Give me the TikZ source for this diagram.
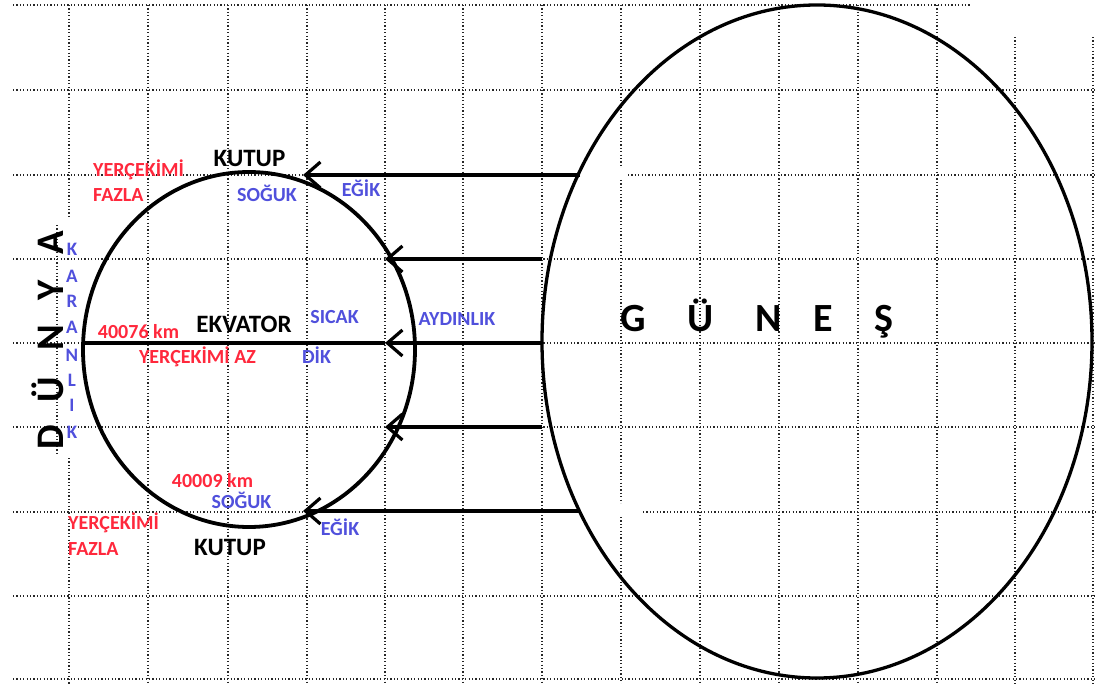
\documentclass[tikz,border=0pt]{standalone}
\usepackage{fontspec}
\setmainfont{Carlito}
\usetikzlibrary{arrows.meta,shapes.geometric}
\definecolor{txtred}{RGB}{255,40,60}
\definecolor{txtblue}{RGB}{80,80,220}
\begin{document}
\begin{tikzpicture}[x=1pt,y=-1pt,
  grid/.style={black!85, line width=1.2pt, dash pattern=on 1.2pt off 2.2pt},
  body/.style={draw, ellipse, inner sep=0pt, line width=3.8pt},
  ray/.style={line width=3.8pt, -{Straight Barb[length=15pt,width=26pt,line width=3.2pt]}},
  lbl/.style={font=\bfseries\fontsize{25}{30}\selectfont, anchor=base, inner sep=0pt},
  rtxt/.style={font=\bfseries\fontsize{20}{24}\selectfont, text=txtred, anchor=base, inner sep=0pt},
  btxt/.style={font=\bfseries\fontsize{20}{24}\selectfont, text=txtblue, anchor=base, inner sep=0pt},
  biglbl/.style={font=\bfseries\fontsize{40}{48}\selectfont, anchor=base, inner sep=0pt},
]
\useasboundingbox (0,0) rectangle (1097,684);
% grid
\foreach \y in {90,259,343,427,596,679} \draw[grid] (13,\y) -- (1097,\y);
\draw[grid] (13,5) -- (970,5);
\draw[grid] (13,175) -- (580,175);
\draw[grid] (628,175) -- (1097,175);
\draw[grid] (13,512) -- (580,512);
\draw[grid] (643,512) -- (1097,512);
\foreach \x in {148,228,307,385,463,542,700,779,858,937} \draw[grid] (\x,5) -- (\x,684);
\draw[grid] (69,5) -- (69,218);
\draw[grid] (57,225) -- (57,455);
\draw[grid] (69,458) -- (69,684);
\draw[grid] (621,5) -- (621,167);
\draw[grid] (621,180) -- (621,503);
\draw[grid] (621,517) -- (621,684);
\draw[grid] (1015,37) -- (1015,684);
\draw[grid] (1093,37) -- (1093,684);
% bodies
\node[body, minimum width=332pt, minimum height=355pt] (earth) at (249,349.5) {};
\node[body, line width=3.3pt, minimum width=550pt, minimum height=673pt] (sun) at (817,341.5) {};
% rays
\coordinate (s1) at (580,175); \coordinate (e1) at (303,175);
\coordinate (s2) at (542,259); \coordinate (e2) at (385,259);
\coordinate (s3) at (542,343); \coordinate (e3) at (385,343);
\coordinate (s4) at (542,427); \coordinate (e4) at (385,427);
\coordinate (s5) at (580,511); \coordinate (e5) at (303,511);
\coordinate (eqL) at (83,343);
\draw[line width=3.8pt] (eqL) -- (e3);
\foreach \i in {1,...,5} \draw[ray] (s\i) -- (e\i);
% labels
\node[lbl] (kutupN) at (249.5,167) {KUTUP};
\node[btxt] (sogukN) at (267,202) {SOĞUK};
\node[btxt] (egikN) at (361,197) {EĞİK};
\node[rtxt, anchor=base west] (yerN) at (93,177) {YERÇEKİMİ};
\node[rtxt, anchor=base west] (fazN) at (93,202) {FAZLA};
\node[lbl] (ekv) at (244,333) {EKVATOR};
\node[rtxt] (km1) at (138.5,338) {40076 km};
\node[rtxt] (yaz) at (197.5,363) {YERÇEKİMİ AZ};
\node[btxt] (sicak) at (334.5,324) {SICAK};
\node[btxt] (dik) at (316.5,363) {DİK};
\node[btxt] (ayd) at (457,326) {AYDINLIK};
\node[rtxt] (km2) at (212.5,487) {40009 km};
\node[btxt] (sogukS) at (241.5,508) {SOĞUK};
\node[rtxt, anchor=base west] (yerS) at (68,529) {YERÇEKİMİ};
\node[rtxt, anchor=base west] (fazS) at (68,555) {FAZLA};
\node[lbl] (kutupS) at (230,555) {KUTUP};
\node[btxt] (egikS) at (340,535) {EĞİK};
% GÜNEŞ
\foreach \x/\c [count=\i] in {633/G,701/Ü,769/N,823/E,884/Ş}
  \node[biglbl] (g\i) at (\x,332) {\c};
% DÜNYA
\foreach \y/\c [count=\i] in {437/D,390/Ü,338/N,290/Y,243/A}
  \node[biglbl, font=\bfseries\fontsize{39}{44}\selectfont, rotate=90] (d\i) at (63,\y) {\c};
% KARANLIK
\foreach \y/\c [count=\i] in {256/K,283/A,308/R,334/A,361/N,386/L,411/I,438/K}
  \node[btxt, font=\bfseries\fontsize{19}{22}\selectfont] (k\i) at (72,\y) {\c};
\end{tikzpicture}
\end{document}
